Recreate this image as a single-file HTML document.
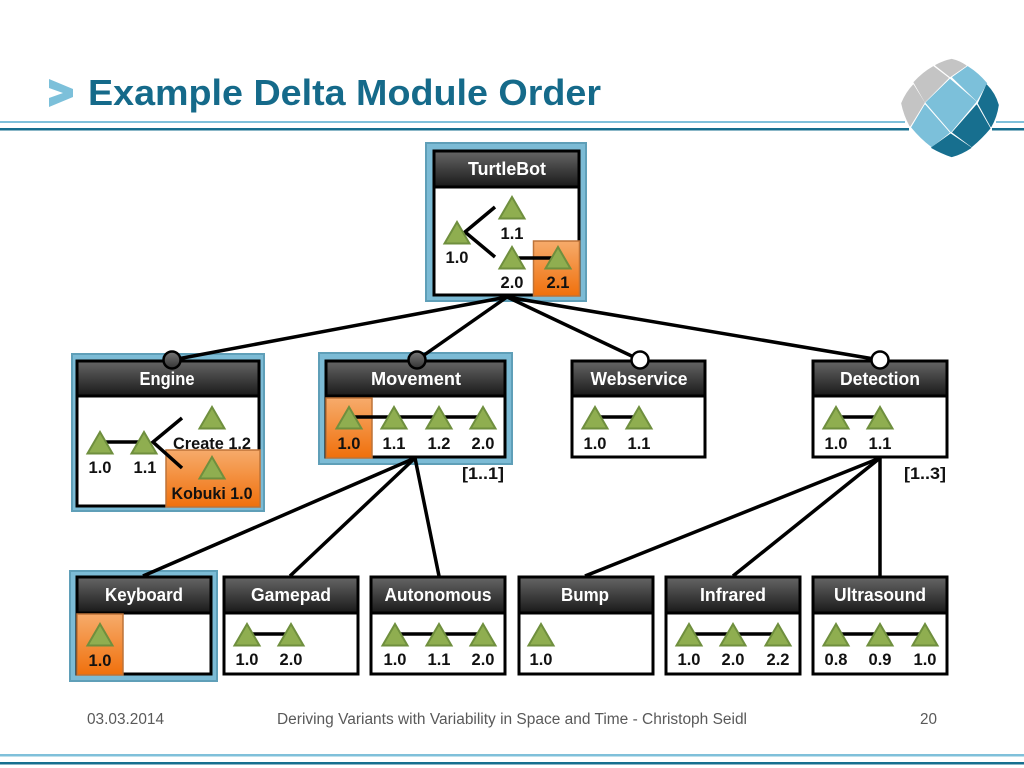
<!DOCTYPE html>
<html><head><meta charset="utf-8"><style>
html,body{margin:0;padding:0;background:#fff}
svg{display:block}
text{font-family:"Liberation Sans",sans-serif}
.h{font-weight:bold;font-size:18px;fill:#fff;text-anchor:middle}
.v{font-weight:bold;font-size:16.5px;fill:#111;text-anchor:middle}
.f{font-size:15.5px;fill:#595959}
</style></head><body>
<svg width="1024" height="768" viewBox="0 0 1024 768" xmlns="http://www.w3.org/2000/svg">
<defs>
<linearGradient id="hd" x1="0" y1="0" x2="0" y2="1"><stop offset="0" stop-color="#666"/><stop offset="1" stop-color="#191919"/></linearGradient>
<linearGradient id="or" x1="0" y1="0" x2="0" y2="1"><stop offset="0" stop-color="#f6ab6b"/><stop offset="1" stop-color="#f0700c"/></linearGradient>
<linearGradient id="ci" x1="0" y1="0" x2="0" y2="1"><stop offset="0" stop-color="#777"/><stop offset="1" stop-color="#333"/></linearGradient>
<polygon id="t" points="0,2 12.5,23.5 -12.5,23.5" fill="#8fae50" stroke="#6f8f3e" stroke-width="2" stroke-linejoin="miter"/>
</defs>

<!-- header rules -->
<rect x="0" y="121" width="905" height="2" fill="#7fc0da"/>
<rect x="996" y="121" width="28" height="2" fill="#7fc0da"/>
<rect x="0" y="128" width="909" height="2.5" fill="#176f8f"/>
<rect x="992" y="128" width="32" height="2.5" fill="#176f8f"/>
<rect x="0" y="754" width="1024" height="2.5" fill="#7fc0da"/>
<rect x="0" y="762" width="1024" height="2.5" fill="#176f8f"/>

<polygon points="49,79 73,89 73,97 49,107 49,98 63,93 49,88" fill="#7cc0da"/>
<text x="88" y="105" font-size="36" font-weight="bold" fill="#156a8a" textLength="513" lengthAdjust="spacingAndGlyphs">Example Delta Module Order</text>

<!-- logo -->
<g transform="translate(890,50) scale(.3333)" stroke-width="3" stroke-linejoin="round">
<g fill="#c4c4c4" stroke="#c4c4c4">
<path d="M137,46 Q160,33 185,28 Q208,33 228,47 L180,80 Z"/>
<path d="M72,97 Q98,68 130,50 L175,84 L105,155 Z"/>
<path d="M35,160 Q48,128 70,105 L103,158 L60,228 Q42,195 35,160 Z"/>
</g>
<g fill="#7cc0da" stroke="#7cc0da">
<path d="M180,88 L258,155 L183,245 L108,158 Z"/>
<path d="M188,82 L233,50 Q265,70 290,100 L260,152 Z"/>
<path d="M105,165 L178,248 L125,290 Q92,265 65,232 Z"/>
</g>
<g fill="#176f8f" stroke="#176f8f">
<path d="M290,105 Q315,130 325,165 Q320,200 303,230 L265,160 Z"/>
<path d="M260,165 L300,235 Q275,265 245,290 L188,247 Z"/>
<path d="M182,252 L243,293 Q215,312 185,320 Q155,310 125,293 Z"/>
</g>
</g>

<!-- halos -->
<g fill="#7cbbd5" stroke="#5f9fb8" stroke-width="2">
<rect x="426" y="143" width="160" height="158"/>
<rect x="72" y="354" width="192" height="157"/>
<rect x="319" y="353" width="193" height="111"/>
<rect x="70" y="571" width="147" height="110"/>
</g>

<!-- connectors -->
<g stroke="#000" stroke-width="3.5" fill="none">
<line x1="507" y1="297" x2="172" y2="360"/>
<line x1="507" y1="297" x2="417" y2="360"/>
<line x1="507" y1="297" x2="640" y2="360"/>
<line x1="507" y1="297" x2="880" y2="360"/>
<line x1="415" y1="458" x2="143" y2="576"/>
<line x1="415" y1="458" x2="290" y2="576"/>
<line x1="415" y1="458" x2="439" y2="576"/>
<line x1="880" y1="458" x2="585" y2="576"/>
<line x1="880" y1="458" x2="733" y2="576"/>
<line x1="880" y1="458" x2="880" y2="576"/>
</g>

<!-- boxes -->
<g stroke="#000" stroke-width="3">
<rect x="434" y="151" width="145" height="144" fill="#fff"/><rect x="434" y="151" width="145" height="36" fill="url(#hd)"/>
<rect x="77" y="361" width="182" height="145" fill="#fff"/><rect x="77" y="361" width="182" height="35" fill="url(#hd)"/>
<rect x="326" y="361" width="179" height="96" fill="#fff"/><rect x="326" y="361" width="179" height="35" fill="url(#hd)"/>
<rect x="572" y="361" width="133" height="96" fill="#fff"/><rect x="572" y="361" width="133" height="35" fill="url(#hd)"/>
<rect x="813" y="361" width="134" height="96" fill="#fff"/><rect x="813" y="361" width="134" height="35" fill="url(#hd)"/>
<rect x="77" y="577" width="134" height="97" fill="#fff"/><rect x="77" y="577" width="134" height="36" fill="url(#hd)"/>
<rect x="224" y="577" width="134" height="97" fill="#fff"/><rect x="224" y="577" width="134" height="36" fill="url(#hd)"/>
<rect x="371" y="577" width="134" height="97" fill="#fff"/><rect x="371" y="577" width="134" height="36" fill="url(#hd)"/>
<rect x="519" y="577" width="134" height="97" fill="#fff"/><rect x="519" y="577" width="134" height="36" fill="url(#hd)"/>
<rect x="666" y="577" width="134" height="97" fill="#fff"/><rect x="666" y="577" width="134" height="36" fill="url(#hd)"/>
<rect x="813" y="577" width="134" height="97" fill="#fff"/><rect x="813" y="577" width="134" height="36" fill="url(#hd)"/>
</g>

<!-- orange highlights -->
<g fill="url(#or)" stroke="#bd7338" stroke-width="1.5">
<rect x="533.5" y="241" width="46" height="55"/>
<rect x="166" y="450" width="94" height="57"/>
<rect x="326" y="398" width="46" height="60"/>
<rect x="77" y="614" width="46" height="61"/>
</g>

<!-- feature circles -->
<circle cx="172" cy="360" r="8.5" fill="url(#ci)" stroke="#000" stroke-width="2.5"/>
<circle cx="417" cy="360" r="8.5" fill="url(#ci)" stroke="#000" stroke-width="2.5"/>
<circle cx="640" cy="360" r="8.5" fill="#fff" stroke="#000" stroke-width="2.5"/>
<circle cx="880" cy="360" r="8.5" fill="#fff" stroke="#000" stroke-width="2.5"/>

<!-- version lines -->
<g stroke="#000" stroke-width="3.5" fill="none">
<polyline points="495,207 465,232 495,257"/>
<line x1="512" y1="258" x2="558" y2="258"/>
<line x1="100" y1="442" x2="144" y2="442"/>
<polyline points="182,418 153,442 182,468"/>
<line x1="349" y1="417" x2="483" y2="417"/>
<line x1="595" y1="417" x2="639" y2="417"/>
<line x1="836" y1="417" x2="880" y2="417"/>
<line x1="247" y1="634" x2="291" y2="634"/>
<line x1="395" y1="634" x2="483" y2="634"/>
<line x1="689" y1="634" x2="778" y2="634"/>
<line x1="836" y1="634" x2="925" y2="634"/>
</g>

<!-- triangles -->
<use href="#t" x="457" y="220"/><use href="#t" x="512" y="195"/><use href="#t" x="512" y="245"/><use href="#t" x="558" y="245"/>
<use href="#t" x="100" y="430"/><use href="#t" x="144" y="430"/><use href="#t" x="212" y="405"/><use href="#t" x="212" y="455"/>
<use href="#t" x="349" y="405"/><use href="#t" x="394" y="405"/><use href="#t" x="439" y="405"/><use href="#t" x="483" y="405"/>
<use href="#t" x="595" y="405"/><use href="#t" x="639" y="405"/>
<use href="#t" x="836" y="405"/><use href="#t" x="880" y="405"/>
<use href="#t" x="100" y="622"/>
<use href="#t" x="247" y="622"/><use href="#t" x="291" y="622"/>
<use href="#t" x="395" y="622"/><use href="#t" x="439" y="622"/><use href="#t" x="483" y="622"/>
<use href="#t" x="541" y="622"/>
<use href="#t" x="689" y="622"/><use href="#t" x="733" y="622"/><use href="#t" x="778" y="622"/>
<use href="#t" x="836" y="622"/><use href="#t" x="880" y="622"/><use href="#t" x="925" y="622"/>

<!-- headers -->
<text class="h" x="507" y="175" textLength="78" lengthAdjust="spacingAndGlyphs">TurtleBot</text>
<text class="h" x="167" y="385" textLength="55" lengthAdjust="spacingAndGlyphs">Engine</text>
<text class="h" x="416" y="385" textLength="90" lengthAdjust="spacingAndGlyphs">Movement</text>
<text class="h" x="639" y="385" textLength="97" lengthAdjust="spacingAndGlyphs">Webservice</text>
<text class="h" x="880" y="385" textLength="80" lengthAdjust="spacingAndGlyphs">Detection</text>
<text class="h" x="144" y="601" textLength="78" lengthAdjust="spacingAndGlyphs">Keyboard</text>
<text class="h" x="291" y="601" textLength="80" lengthAdjust="spacingAndGlyphs">Gamepad</text>
<text class="h" x="438" y="601" textLength="107" lengthAdjust="spacingAndGlyphs">Autonomous</text>
<text class="h" x="585" y="601" textLength="48" lengthAdjust="spacingAndGlyphs">Bump</text>
<text class="h" x="733" y="601" textLength="66" lengthAdjust="spacingAndGlyphs">Infrared</text>
<text class="h" x="880" y="601" textLength="92" lengthAdjust="spacingAndGlyphs">Ultrasound</text>

<!-- version labels -->
<g>
<text class="v" x="457" y="263">1.0</text><text class="v" x="512" y="239">1.1</text><text class="v" x="512" y="288">2.0</text><text class="v" x="558" y="288">2.1</text>
<text class="v" x="100" y="473">1.0</text><text class="v" x="145" y="473">1.1</text>
<text class="v" x="212" y="449" textLength="78" lengthAdjust="spacingAndGlyphs">Create 1.2</text>
<text class="v" x="212" y="499" textLength="81" lengthAdjust="spacingAndGlyphs">Kobuki 1.0</text>
<text class="v" x="349" y="449">1.0</text><text class="v" x="394" y="449">1.1</text><text class="v" x="439" y="449">1.2</text><text class="v" x="483" y="449">2.0</text>
<text class="v" x="595" y="449">1.0</text><text class="v" x="639" y="449">1.1</text>
<text class="v" x="836" y="449">1.0</text><text class="v" x="880" y="449">1.1</text>
<text class="v" x="100" y="666">1.0</text>
<text class="v" x="247" y="665">1.0</text><text class="v" x="291" y="665">2.0</text>
<text class="v" x="395" y="665">1.0</text><text class="v" x="439" y="665">1.1</text><text class="v" x="483" y="665">2.0</text>
<text class="v" x="541" y="665">1.0</text>
<text class="v" x="689" y="665">1.0</text><text class="v" x="733" y="665">2.0</text><text class="v" x="778" y="665">2.2</text>
<text class="v" x="836" y="665">0.8</text><text class="v" x="880" y="665">0.9</text><text class="v" x="925" y="665">1.0</text>
<text class="v" x="483" y="479" textLength="42" lengthAdjust="spacingAndGlyphs">[1..1]</text>
<text class="v" x="925" y="479" textLength="42" lengthAdjust="spacingAndGlyphs">[1..3]</text>
</g>

<!-- footer -->
<text class="f" x="87" y="724" textLength="77" lengthAdjust="spacingAndGlyphs">03.03.2014</text>
<text class="f" x="277" y="724" textLength="470" lengthAdjust="spacingAndGlyphs">Deriving Variants with Variability in Space and Time - Christoph Seidl</text>
<text class="f" x="920" y="724" textLength="17" lengthAdjust="spacingAndGlyphs">20</text>
</svg>
</body></html>
